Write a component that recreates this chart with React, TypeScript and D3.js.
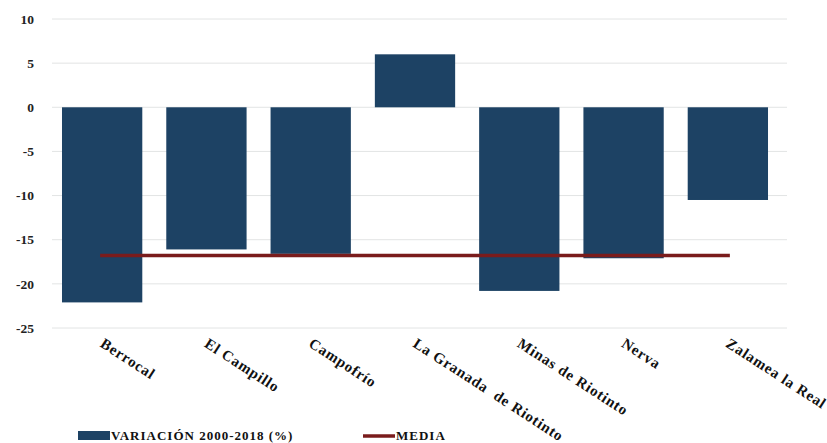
import React from "react";
import * as d3 from "d3";

const categories = [
  "Berrocal",
  "El Campillo",
  "Campofrío",
  "La Granada  de Riotinto",
  "Minas de Riotinto",
  "Nerva",
  "Zalamea la Real",
];
const variacion = [-22.1, -16.1, -16.6, 6.0, -20.8, -17.1, -10.5];
const media = -16.8;
const yTicks = [10, 5, 0, -5, -10, -15, -20, -25];
const legendLabels = ["VARIACIÓN 2000-2018 (%)", "MEDIA"];

const W = 827;
const H = 443;
const BAR = "#1d4264";
const LINE = "#7a1c1c";
const FONT = "'Liberation Serif', 'DejaVu Serif', serif";

export default function App() {
  const y = d3.scaleLinear().domain([-25, 10]).range([328, 19]);
  const x = d3
    .scaleBand<string>()
    .domain(categories)
    .range([50, 780])
    .paddingInner(0.23)
    .paddingOuter(0.115);
  const bw = x.bandwidth();
  const cx = (c: string) => (x(c) as number) + bw / 2;
  const lineGen = d3
    .line<[number, number]>()
    .x((d) => d[0])
    .y((d) => d[1]);
  const mediaPts: [number, number][] = [
    [cx(categories[0]) - 2, y(media)],
    [cx(categories[categories.length - 1]) + 2, y(media)],
  ];

  return (
    <svg
      width={W}
      height={H}
      style={{ position: "absolute", left: 0, top: 0, background: "#fff" }}
    >
      {yTicks.map((t) => (
        <g key={t}>
          <line
            x1={52}
            x2={787}
            y1={y(t)}
            y2={y(t)}
            stroke="#e2e4e4"
            strokeWidth={1}
          />
          <text
            x={34}
            y={y(t)}
            dy="0.35em"
            textAnchor="end"
            fontFamily={FONT}
            fontWeight="bold"
            fontSize={13.5}
            fill="#222"
          >
            {t}
          </text>
        </g>
      ))}
      {categories.map((c, i) => {
        const v = variacion[i];
        return (
          <rect
            key={c}
            x={x(c)}
            y={y(Math.max(0, v))}
            width={bw}
            height={Math.abs(y(v) - y(0))}
            fill={BAR}
          />
        );
      })}
      <path
        d={lineGen(mediaPts) || ""}
        stroke={LINE}
        strokeWidth={3.5}
        fill="none"
      />
      {categories.map((c) => (
        <text
          key={c}
          transform={`translate(${cx(c) - 3},${346}) rotate(33)`}
          fontFamily={FONT}
          fontWeight="bold"
          fontSize={15}
          letterSpacing={0.8}
          fill="#111"
          style={{ whiteSpace: "pre" }}
        >
          {c}
        </text>
      ))}
      <rect x={78} y={431} width={32} height={9} fill={BAR} />
      <text
        x={111}
        y={440}
        fontFamily={FONT}
        fontWeight="bold"
        fontSize={13}
        letterSpacing={1}
        fill="#111"
      >
        {legendLabels[0]}
      </text>
      <line x1={363} x2={395} y1={436} y2={436} stroke={LINE} strokeWidth={3.5} />
      <text
        x={396}
        y={440}
        fontFamily={FONT}
        fontWeight="bold"
        fontSize={13}
        letterSpacing={1}
        fill="#111"
      >
        {legendLabels[1]}
      </text>
    </svg>
  );
}
